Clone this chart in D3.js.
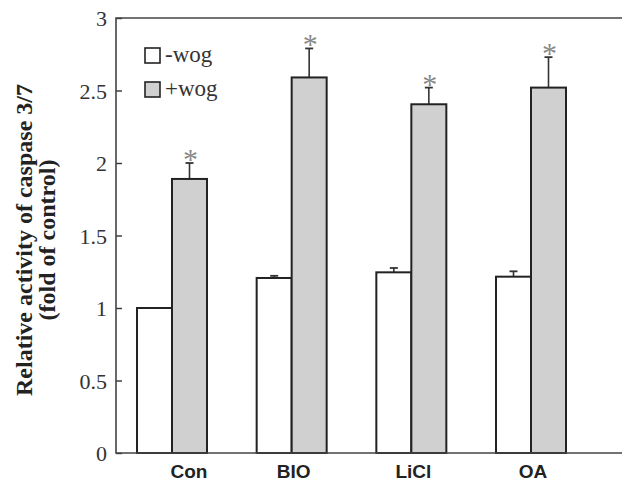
<!DOCTYPE html>
<html>
<meta charset="utf-8">
<style type="text/css">
  body { margin: 0; background: #fff; }
  .tick text { font-family: "Liberation Serif", serif; }
</style>
<body>
<script src="https://d3js.org/d3.v7.min.js"></script>
<div id="chart"></div>
<script>
  // data
  const groups = ["Con", "BIO", "LiCl", "OA"];
  const minusWog = [1.0, 1.207, 1.246, 1.216];
  const minusErr = [0, 0.015, 0.03, 0.037];
  const plusWog = [1.89, 2.59, 2.405, 2.52];
  const plusErr = [0.11, 0.2, 0.115, 0.21];
  const yTicks = [0, 0.5, 1, 1.5, 2, 2.5, 3];

  const width = 622,
    height = 483;

  const svg = d3.select("#chart").append("svg")
    .attr("width", width)
    .attr("height", height);

  const y = d3.scaleLinear().domain([0, 3]).range([453, 18]);
  const x = d3.scalePoint().domain(groups).range([172, 531]);
  const barW = 35;

  const ink = "#333";

  // bars for both series
  const series = [
    { vals: minusWog, errs: minusErr, fill: "#fff", side: -1 },
    { vals: plusWog, errs: plusErr, fill: "#d0d0d0", side: 0 }
  ];

  series.forEach(s => {
    const g = svg.append("g");
    const rows = groups.map((k, i) => ({ k: k, v: s.vals[i], e: s.errs[i] }));
    const bx = d => x(d.k) + s.side * barW;

    // error bars (drawn under the bar outline)
    g.selectAll("line.err")
      .data(rows.filter(d => d.e > 0))
      .enter().append("line")
      .attr("x1", d => bx(d) + barW / 2).attr("x2", d => bx(d) + barW / 2)
      .attr("y1", d => y(d.v)).attr("y2", d => y(d.v + d.e))
      .style("stroke", ink).style("stroke-width", 1.6);
    g.selectAll("line.cap")
      .data(rows.filter(d => d.e > 0))
      .enter().append("line")
      .attr("x1", d => bx(d) + barW / 2 - 4).attr("x2", d => bx(d) + barW / 2 + 4)
      .attr("y1", d => y(d.v + d.e)).attr("y2", d => y(d.v + d.e))
      .style("stroke", ink).style("stroke-width", 1.8);

    g.selectAll("rect")
      .data(rows)
      .enter().append("rect")
      .attr("x", bx)
      .attr("y", d => y(d.v))
      .attr("width", barW)
      .attr("height", d => y(0) - y(d.v))
      .style("fill", s.fill)
      .style("stroke", "#222")
      .style("stroke-width", 2);

    // significance stars on the +wog bars
    if (s.side === 0) {
      g.selectAll("text")
        .data(rows)
        .enter().append("text")
        .attr("x", d => bx(d) + barW / 2 + 1)
        .attr("y", d => y(d.v + d.e) + 6)
        .attr("text-anchor", "middle")
        .style("font-family", "Liberation Serif, serif")
        .style("font-size", "30px")
        .style("fill", "#888")
        .text("*");
    }
  });

  // y axis, ticks pointing into the plot
  const yAxis = d3.axisRight(y).tickValues(yTicks).tickSize(6).tickFormat(d3.format("~g"));
  const ya = svg.append("g").attr("transform", "translate(116,0)").call(yAxis);
  ya.select(".domain").remove();
  ya.selectAll(".tick line").style("stroke", ink).style("stroke-width", 1.4);
  ya.selectAll(".tick text")
    .attr("x", -9).attr("dy", "0.35em")
    .attr("text-anchor", "end")
    .style("font-size", "22px")
    .style("fill", ink);

  // frame: left, top and bottom lines
  svg.append("path")
    .attr("d", d3.line()([[622, y(3)], [116, y(3)], [116, y(0)], [622, y(0)]]))
    .style("fill", "none").style("stroke", "#444").style("stroke-width", 1.6);

  // x labels
  svg.selectAll("text.xl")
    .data(groups)
    .enter().append("text")
    .attr("class", "xl")
    .attr("x", (d, i) => x(d) + (i === 0 ? 17 : 2))
    .attr("y", 478)
    .attr("text-anchor", "middle")
    .style("font-family", "Liberation Sans, Arial, sans-serif")
    .style("font-weight", "bold")
    .style("font-size", "19px")
    .style("fill", "#222")
    .text(d => d);

  // y title
  const title = svg.append("text")
    .attr("transform", "translate(32,240) rotate(-90)")
    .attr("text-anchor", "middle")
    .style("font-family", "Liberation Serif, serif")
    .style("font-weight", "bold")
    .style("font-size", "24px")
    .style("fill", "#222");
  title.append("tspan").attr("x", 0).attr("y", 0).text("Relative activity of caspase 3/7");
  title.append("tspan").attr("x", 0).attr("y", 23).text("(fold of control)");

  // legend
  const legendItems = ["-wog", "+wog"];
  const legendFill = ["#fff", "#d0d0d0"];
  const lg = svg.append("g").attr("transform", "translate(145,48)");
  legendItems.forEach((t, i) => {
    lg.append("rect")
      .attr("x", 0).attr("y", i * 34)
      .attr("width", 15).attr("height", 15)
      .style("fill", legendFill[i]).style("stroke", "#222").style("stroke-width", 1.6);
    lg.append("text")
      .attr("x", 20).attr("y", i * 34 + 14)
      .style("font-family", "Liberation Serif, serif")
      .style("font-size", "23px")
      .style("fill", ink)
      .text(t);
  });
</script>
</body>
</html>
